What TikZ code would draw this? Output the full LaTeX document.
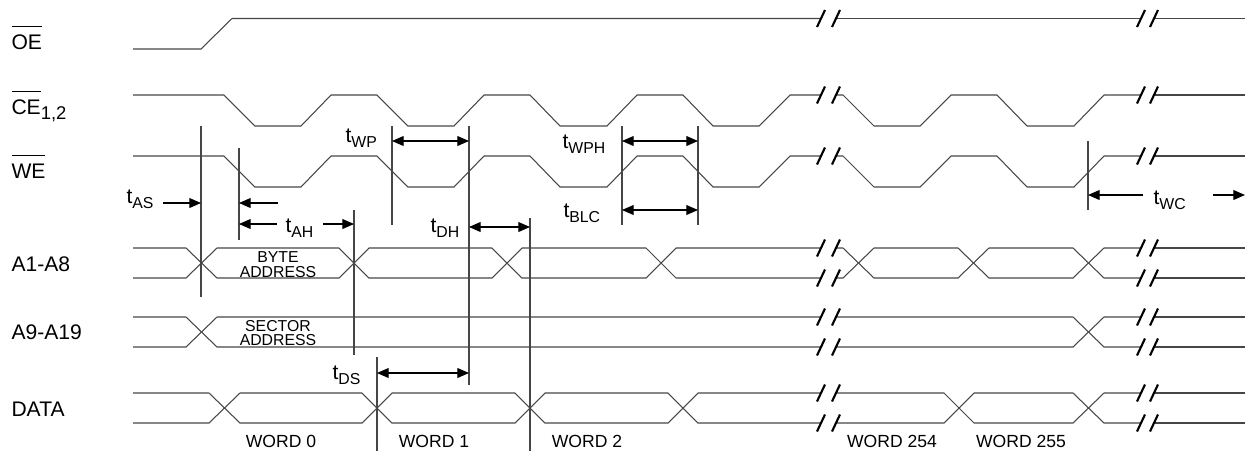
\documentclass[tikz,border=0pt]{standalone}
\usepackage{fontspec}
\setmainfont{Liberation Sans}
\usetikzlibrary{arrows.meta}
\definecolor{wavegray}{RGB}{70,70,70}
\newcommand{\tsym}[1]{t\raisebox{-3pt}{\fontsize{9}{10}\selectfont #1}}
\newcommand{\sigbar}[1]{\sbox0{#1}\rlap{\raisebox{12.5pt}{\rule{\wd0}{0.6pt}}}\usebox0}

\begin{document}
\begin{tikzpicture}[x=0.02cm, y=-0.02cm, line width=0.6pt,
    wave/.style={wavegray},
    guide/.style={wavegray},
    dimarrow/.style={black, {Triangle[length=6.6pt,width=5.6pt]}-{Triangle[length=6.6pt,width=5.6pt]}},
    onearrow/.style={black, -{Triangle[length=6.6pt,width=5.6pt]}},
    brk/.style={black, line width=1.2pt},
    siglabel/.style={anchor=base west, inner sep=0pt, font=\fontsize{12}{14}\selectfont},
    tlabel/.style={anchor=base west, inner sep=0pt, font=\fontsize{12}{14}\selectfont},
    addr/.style={inner sep=0pt, align=center, font=\fontsize{9}{8.3}\selectfont},
    wordlabel/.style={anchor=base, inner sep=0pt, font=\fontsize{10}{12}\selectfont}]
    \useasboundingbox (0,0) rectangle (1245,451);
    % signal names
    \node[siglabel] (sOE)   at (11,49)  {\sigbar{OE}};
    \node[siglabel] (sCE)   at (11,114) {\sigbar{CE}\raisebox{-3pt}{\fontsize{10.5}{12}\selectfont 1,2}};
    \node[siglabel] (sWE)   at (11,178) {\sigbar{WE}};
    \node[siglabel] (sA1)   at (11,271) {A1-A8};
    \node[siglabel] (sA9)   at (11,339) {A9-A19};
    \node[siglabel] (sDATA) at (11,416) {DATA};
    % OE
    \draw[wave] (133,49) -- (201,49) -- (232,18.5) -- (821,18.5);
    \draw[wave] (836,18.5) -- (1141,18.5);
    \draw[wave] (1154,18.5) -- (1245,18.5);
    % CE
    \draw[wave] (133,95) -- (224,95) -- (255,126) -- (301,126) -- (331,95) -- (377,95) -- (408,126) -- (454,126) -- (484,95)
        -- (530,95) -- (560,126) -- (607,126) -- (637,95) -- (683,95) -- (713,126) -- (759,126) -- (790,95) -- (821,95);
    \draw[wave] (836,95) -- (843,95) -- (874,126) -- (920,126) -- (951,95) -- (997,95) -- (1027,126) -- (1074,126) -- (1104,95) -- (1141,95);
    \draw[wave] (1154,95) -- (1245,95);
    % WE
    \draw[wave] (133,156) -- (224,156) -- (255,187) -- (301,187) -- (331,156) -- (377,156) -- (408,187) -- (454,187) -- (484,156)
        -- (530,156) -- (560,187) -- (607,187) -- (637,156) -- (683,156) -- (713,187) -- (759,187) -- (790,156) -- (821,156);
    \draw[wave] (836,156) -- (843,156) -- (874,187) -- (920,187) -- (951,156) -- (997,156) -- (1027,187) -- (1074,187) -- (1104,156) -- (1141,156);
    \draw[wave] (1154,156) -- (1245,156);
    % A1-A8
    \draw[wave] (133,248) -- (186,248) -- (217,278) -- (339,278) -- (369,248) -- (492,248) -- (522,278) -- (646,278) -- (676,248) -- (821,248);
    \draw[wave] (133,278) -- (186,278) -- (217,248) -- (339,248) -- (369,278) -- (492,278) -- (522,248) -- (646,248) -- (676,278) -- (821,278);
    \draw[wave] (836,248) -- (843,248) -- (874,278) -- (958,278) -- (989,248) -- (1073,248) -- (1104,278) -- (1141,278);
    \draw[wave] (836,278) -- (843,278) -- (874,248) -- (958,248) -- (989,278) -- (1073,278) -- (1104,248) -- (1141,248);
    \draw[wave] (1154,248) -- (1245,248);
    \draw[wave] (1154,278) -- (1245,278);
    \node[addr] (byteaddr) at (278,264.5) {BYTE\\ADDRESS};
    % A9-A19
    \draw[wave] (133,317) -- (186,317) -- (217,347) -- (821,347);
    \draw[wave] (133,347) -- (186,347) -- (217,317) -- (821,317);
    \draw[wave] (836,347) -- (1073,347) -- (1104,317) -- (1141,317);
    \draw[wave] (836,317) -- (1073,317) -- (1104,347) -- (1141,347);
    \draw[wave] (1154,317) -- (1245,317);
    \draw[wave] (1154,347) -- (1245,347);
    \node[addr] (sectaddr) at (278,333) {SECTOR\\ADDRESS};
    % DATA
    \draw[wave] (133,393) -- (209,393) -- (240,423) -- (362,423) -- (392,393) -- (515,393) -- (545,423) -- (668,423) -- (698,393) -- (821,393);
    \draw[wave] (133,423) -- (209,423) -- (240,393) -- (362,393) -- (392,423) -- (515,423) -- (545,393) -- (668,393) -- (698,423) -- (821,423);
    \draw[wave] (836,393) -- (944,393) -- (974,423) -- (1073,423) -- (1104,393) -- (1141,393);
    \draw[wave] (836,423) -- (944,423) -- (974,393) -- (1073,393) -- (1104,423) -- (1141,423);
    \draw[wave] (1154,393) -- (1245,393);
    \draw[wave] (1154,423) -- (1245,423);
    \node[wordlabel] (w0)   at (281,447.5)  {WORD 0};
    \node[wordlabel] (w1)   at (434,447.5)  {WORD 1};
    \node[wordlabel] (w2)   at (587,447.5)  {WORD 2};
    \node[wordlabel] (w254) at (892,447.5)  {WORD 254};
    \node[wordlabel] (w255) at (1021,447.5) {WORD 255};
    % breaks
    \foreach \y in {18.5,95,156,248,278,317,347,393,423}
        \foreach \x in {821,836,1141,1154}
            \draw[brk] (\x-4,\y+8.5) -- (\x+4,\y-8.5);
    % guide lines
    \draw[guide] (201,126) -- (201,297);
    \draw[guide] (239,148) -- (239,240);
    \draw[guide] (354,210) -- (354,355);
    \draw[guide] (377,357) -- (377,451);
    \draw[guide] (392,126) -- (392,225);
    \draw[guide] (469,126) -- (469,385);
    \draw[guide] (530,218) -- (530,451);
    \draw[guide] (622,126) -- (622,225);
    \draw[guide] (698,126) -- (698,225);
    \draw[guide] (1088,141) -- (1088,210);
    % timing arrows
    \draw[onearrow] (163,203) -- (201,203);
    \node[tlabel] (tAS) at (126,203) {\tsym{AS}};
    \draw[onearrow] (278,203) -- (239,203);
    \draw[onearrow] (277,224) -- (239,224);
    \draw[onearrow] (323,224) -- (354,224);
    \node[tlabel] (tAH) at (285,232) {\tsym{AH}};
    \draw[dimarrow] (392,141) -- (469,141);
    \node[tlabel] (tWP) at (345,142) {\tsym{WP}};
    \draw[dimarrow] (622,141) -- (698,141);
    \node[tlabel] (tWPH) at (562,148) {\tsym{WPH}};
    \draw[dimarrow] (622,210) -- (698,210);
    \node[tlabel] (tBLC) at (563,217) {\tsym{BLC}};
    \draw[dimarrow] (469,227) -- (530,227);
    \node[tlabel] (tDH) at (430,232) {\tsym{DH}};
    \draw[dimarrow] (377,373) -- (469,373);
    \node[tlabel] (tDS) at (332,379) {\tsym{DS}};
    \draw[onearrow] (1143,195) -- (1088,195);
    \draw[onearrow] (1213,195) -- (1245,195);
    \node[tlabel] (tWC) at (1153,204) {\tsym{WC}};
\end{tikzpicture}
\end{document}
